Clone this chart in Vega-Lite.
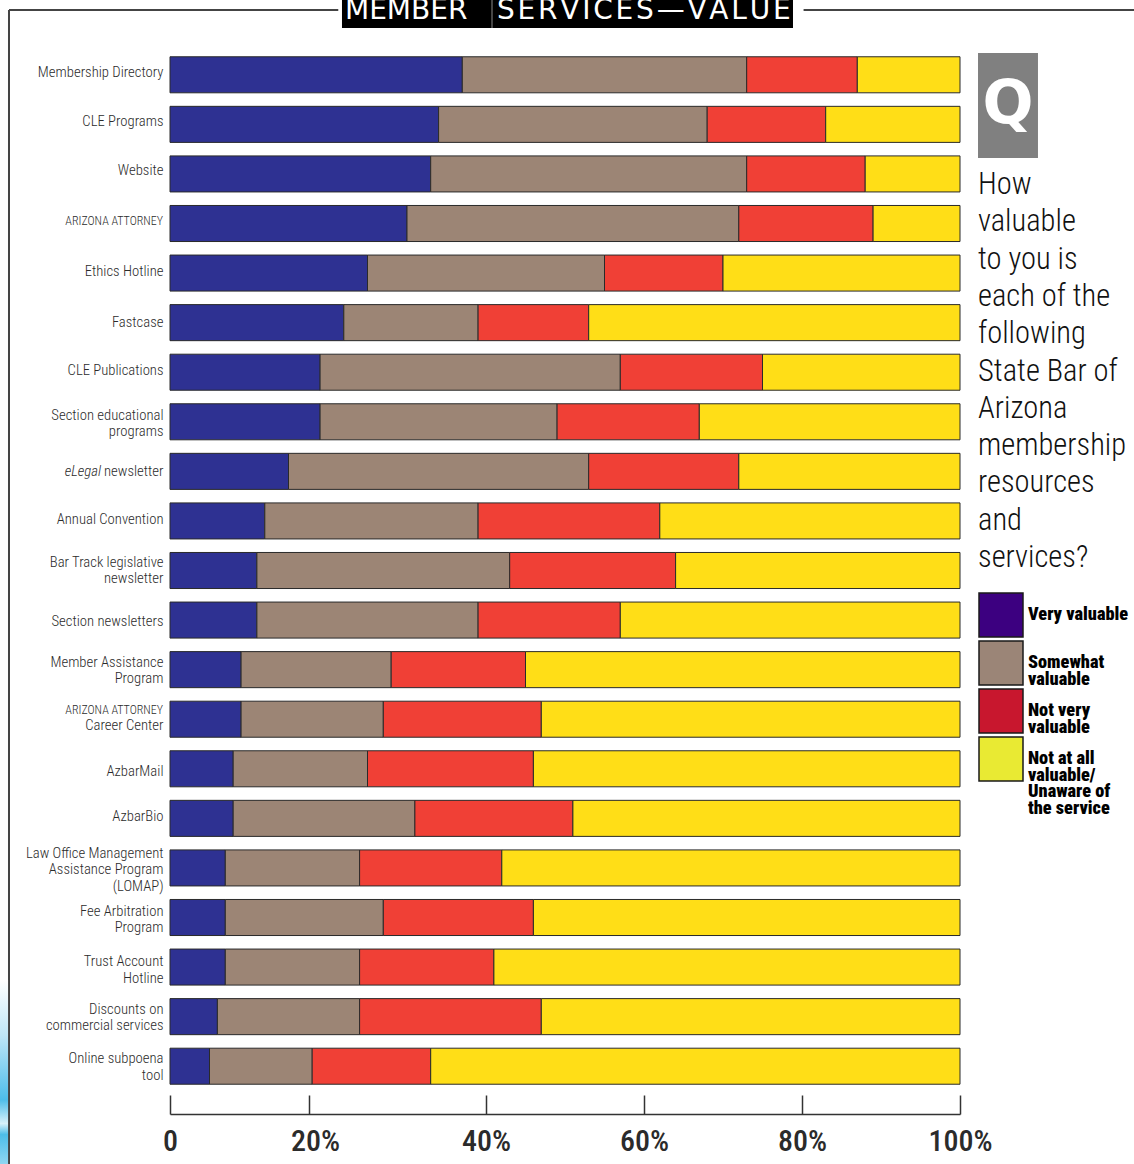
{
  "$schema": "https://vega.github.io/schema/vega-lite/v6.json",
  "width": 790,
  "height": 1041,
  "autosize": "none",
  "padding": {"left": 170, "top": 50, "right": 174, "bottom": 73},
  "background": "white",
  "view": {"stroke": null},
  "config": {"font": "Roboto Condensed, Roboto"},
  "resolve": {"scale": {"color": "independent"}, "legend": {"color": "independent"}},
  "datasets": {
    "responses": [
      {"service":"Membership Directory","rating":"Very valuable","rank":1,"share":37},{"service":"Membership Directory","rating":"Somewhat valuable","rank":2,"share":36},{"service":"Membership Directory","rating":"Not very valuable","rank":3,"share":14},{"service":"Membership Directory","rating":"Not at all valuable/ Unaware of the service","rank":4,"share":13},
      {"service":"CLE Programs","rating":"Very valuable","rank":1,"share":34},{"service":"CLE Programs","rating":"Somewhat valuable","rank":2,"share":34},{"service":"CLE Programs","rating":"Not very valuable","rank":3,"share":15},{"service":"CLE Programs","rating":"Not at all valuable/ Unaware of the service","rank":4,"share":17},
      {"service":"Website","rating":"Very valuable","rank":1,"share":33},{"service":"Website","rating":"Somewhat valuable","rank":2,"share":40},{"service":"Website","rating":"Not very valuable","rank":3,"share":15},{"service":"Website","rating":"Not at all valuable/ Unaware of the service","rank":4,"share":12},
      {"service":"Arizona Attorney","rating":"Very valuable","rank":1,"share":30},{"service":"Arizona Attorney","rating":"Somewhat valuable","rank":2,"share":42},{"service":"Arizona Attorney","rating":"Not very valuable","rank":3,"share":17},{"service":"Arizona Attorney","rating":"Not at all valuable/ Unaware of the service","rank":4,"share":11},
      {"service":"Ethics Hotline","rating":"Very valuable","rank":1,"share":25},{"service":"Ethics Hotline","rating":"Somewhat valuable","rank":2,"share":30},{"service":"Ethics Hotline","rating":"Not very valuable","rank":3,"share":15},{"service":"Ethics Hotline","rating":"Not at all valuable/ Unaware of the service","rank":4,"share":30},
      {"service":"Fastcase","rating":"Very valuable","rank":1,"share":22},{"service":"Fastcase","rating":"Somewhat valuable","rank":2,"share":17},{"service":"Fastcase","rating":"Not very valuable","rank":3,"share":14},{"service":"Fastcase","rating":"Not at all valuable/ Unaware of the service","rank":4,"share":47},
      {"service":"CLE Publications","rating":"Very valuable","rank":1,"share":19},{"service":"CLE Publications","rating":"Somewhat valuable","rank":2,"share":38},{"service":"CLE Publications","rating":"Not very valuable","rank":3,"share":18},{"service":"CLE Publications","rating":"Not at all valuable/ Unaware of the service","rank":4,"share":25},
      {"service":"Section educational programs","rating":"Very valuable","rank":1,"share":19},{"service":"Section educational programs","rating":"Somewhat valuable","rank":2,"share":30},{"service":"Section educational programs","rating":"Not very valuable","rank":3,"share":18},{"service":"Section educational programs","rating":"Not at all valuable/ Unaware of the service","rank":4,"share":33},
      {"service":"eLegal newsletter","rating":"Very valuable","rank":1,"share":15},{"service":"eLegal newsletter","rating":"Somewhat valuable","rank":2,"share":38},{"service":"eLegal newsletter","rating":"Not very valuable","rank":3,"share":19},{"service":"eLegal newsletter","rating":"Not at all valuable/ Unaware of the service","rank":4,"share":28},
      {"service":"Annual Convention","rating":"Very valuable","rank":1,"share":12},{"service":"Annual Convention","rating":"Somewhat valuable","rank":2,"share":27},{"service":"Annual Convention","rating":"Not very valuable","rank":3,"share":23},{"service":"Annual Convention","rating":"Not at all valuable/ Unaware of the service","rank":4,"share":38},
      {"service":"Bar Track legislative newsletter","rating":"Very valuable","rank":1,"share":11},{"service":"Bar Track legislative newsletter","rating":"Somewhat valuable","rank":2,"share":32},{"service":"Bar Track legislative newsletter","rating":"Not very valuable","rank":3,"share":21},{"service":"Bar Track legislative newsletter","rating":"Not at all valuable/ Unaware of the service","rank":4,"share":36},
      {"service":"Section newsletters","rating":"Very valuable","rank":1,"share":11},{"service":"Section newsletters","rating":"Somewhat valuable","rank":2,"share":28},{"service":"Section newsletters","rating":"Not very valuable","rank":3,"share":18},{"service":"Section newsletters","rating":"Not at all valuable/ Unaware of the service","rank":4,"share":43},
      {"service":"Member Assistance Program","rating":"Very valuable","rank":1,"share":9},{"service":"Member Assistance Program","rating":"Somewhat valuable","rank":2,"share":19},{"service":"Member Assistance Program","rating":"Not very valuable","rank":3,"share":17},{"service":"Member Assistance Program","rating":"Not at all valuable/ Unaware of the service","rank":4,"share":55},
      {"service":"Arizona Attorney Career Center","rating":"Very valuable","rank":1,"share":9},{"service":"Arizona Attorney Career Center","rating":"Somewhat valuable","rank":2,"share":18},{"service":"Arizona Attorney Career Center","rating":"Not very valuable","rank":3,"share":20},{"service":"Arizona Attorney Career Center","rating":"Not at all valuable/ Unaware of the service","rank":4,"share":53},
      {"service":"AzbarMail","rating":"Very valuable","rank":1,"share":8},{"service":"AzbarMail","rating":"Somewhat valuable","rank":2,"share":17},{"service":"AzbarMail","rating":"Not very valuable","rank":3,"share":21},{"service":"AzbarMail","rating":"Not at all valuable/ Unaware of the service","rank":4,"share":54},
      {"service":"AzbarBio","rating":"Very valuable","rank":1,"share":8},{"service":"AzbarBio","rating":"Somewhat valuable","rank":2,"share":23},{"service":"AzbarBio","rating":"Not very valuable","rank":3,"share":20},{"service":"AzbarBio","rating":"Not at all valuable/ Unaware of the service","rank":4,"share":49},
      {"service":"Law Office Management Assistance Program (LOMAP)","rating":"Very valuable","rank":1,"share":7},{"service":"Law Office Management Assistance Program (LOMAP)","rating":"Somewhat valuable","rank":2,"share":17},{"service":"Law Office Management Assistance Program (LOMAP)","rating":"Not very valuable","rank":3,"share":18},{"service":"Law Office Management Assistance Program (LOMAP)","rating":"Not at all valuable/ Unaware of the service","rank":4,"share":58},
      {"service":"Fee Arbitration Program","rating":"Very valuable","rank":1,"share":7},{"service":"Fee Arbitration Program","rating":"Somewhat valuable","rank":2,"share":20},{"service":"Fee Arbitration Program","rating":"Not very valuable","rank":3,"share":19},{"service":"Fee Arbitration Program","rating":"Not at all valuable/ Unaware of the service","rank":4,"share":54},
      {"service":"Trust Account Hotline","rating":"Very valuable","rank":1,"share":7},{"service":"Trust Account Hotline","rating":"Somewhat valuable","rank":2,"share":17},{"service":"Trust Account Hotline","rating":"Not very valuable","rank":3,"share":17},{"service":"Trust Account Hotline","rating":"Not at all valuable/ Unaware of the service","rank":4,"share":59},
      {"service":"Discounts on commercial services","rating":"Very valuable","rank":1,"share":6},{"service":"Discounts on commercial services","rating":"Somewhat valuable","rank":2,"share":18},{"service":"Discounts on commercial services","rating":"Not very valuable","rank":3,"share":23},{"service":"Discounts on commercial services","rating":"Not at all valuable/ Unaware of the service","rank":4,"share":53},
      {"service":"Online subpoena tool","rating":"Very valuable","rank":1,"share":5},{"service":"Online subpoena tool","rating":"Somewhat valuable","rank":2,"share":13},{"service":"Online subpoena tool","rating":"Not very valuable","rank":3,"share":15},{"service":"Online subpoena tool","rating":"Not at all valuable/ Unaware of the service","rank":4,"share":67}
    ]
  },
  "layer": [
    {
      "data": {"name": "responses"},
      "mark": {"type": "bar", "stroke": "#2a2a2a", "strokeWidth": 1},
      "encoding": {
        "y": {
          "field": "service",
          "type": "nominal",
          "scale": {
            "domain": ["Membership Directory","CLE Programs","Website","Arizona Attorney","Ethics Hotline","Fastcase","CLE Publications","Section educational programs","eLegal newsletter","Annual Convention","Bar Track legislative newsletter","Section newsletters","Member Assistance Program","Arizona Attorney Career Center","AzbarMail","AzbarBio","Law Office Management Assistance Program (LOMAP)","Fee Arbitration Program","Trust Account Hotline","Discounts on commercial services","Online subpoena tool"],
            "paddingInner": 0.273,
            "paddingOuter": 0.1365
          },
          "axis": {
            "title": null,
            "ticks": false,
            "domain": false,
            "labelFont": "Roboto Condensed, Roboto",
            "labelFontWeight": 300,
            "labelFontSize": 14.7,
            "labelColor": "#2b2b2b",
            "labelPadding": 7,
            "labelLimit": 200,
            "labelLineHeight": 16.5,
            "labelOffset": {"expr": "{'Membership Directory':-2,'CLE Programs':-2,'Website':-3,'Ethics Hotline':-1,'Fastcase':0,'CLE Publications':-1,'Section educational programs':-6,'eLegal newsletter':1,'Annual Convention':-1,'Bar Track legislative newsletter':-8,'Section newsletters':2,'Member Assistance Program':-7,'Arizona Attorney Career Center':-10,'AzbarMail':3,'AzbarBio':-1,'Law Office Management Assistance Program (LOMAP)':-14,'Fee Arbitration Program':-6,'Trust Account Hotline':-5,'Discounts on commercial services':-7,'Online subpoena tool':-7}[datum.value] || 0"},
            "labelExpr": "{'Section educational programs':['Section educational','programs'],'eLegal newsletter':'newsletter','Arizona Attorney':' ','Bar Track legislative newsletter':['Bar Track legislative','newsletter'],'Member Assistance Program':['Member Assistance','Program'],'Arizona Attorney Career Center':[' ','Career Center'],'Law Office Management Assistance Program (LOMAP)':['Law Office Management','Assistance Program','(LOMAP)'],'Fee Arbitration Program':['Fee Arbitration','Program'],'Trust Account Hotline':['Trust Account','Hotline'],'Discounts on commercial services':['Discounts on','commercial services'],'Online subpoena tool':['Online subpoena','tool']}[datum.value] || datum.value"
          }
        },
        "x": {
          "field": "share",
          "type": "quantitative",
          "stack": "zero",
          "scale": {"domain": [0, 100], "nice": false},
          "axis": {
            "title": null,
            "grid": false,
            "offset": 23,
            "orient": "bottom",
            "values": [0, 17.6, 40, 60, 80, 100],
            "labelExpr": "datum.value == 0 ? '0' : datum.value == 17.6 ? '20%' : datum.value + '%'",
            "labelOffset": {"expr": "datum.value == 17.6 ? 6 : 0"},
            "labelFlush": false,
            "labelBound": false,
            "labelOverlap": false,
            "tickSize": -19,
            "tickWidth": 1.5,
            "tickColor": "#333333",
            "domainColor": "#333333",
            "domainWidth": 1.5,
            "labelFont": "Roboto Condensed, Roboto",
            "labelFontWeight": 500,
            "labelFontSize": 30,
            "labelColor": "#2b2b2b",
            "labelPadding": 31
          }
        },
        "color": {
          "field": "rating",
          "type": "nominal",
          "legend": null,
          "scale": {
            "domain": ["Very valuable","Somewhat valuable","Not very valuable","Not at all valuable/ Unaware of the service"],
            "range": ["#2e3192","#9c8575","#f04036","#ffde17"]
          }
        },
        "order": {"field": "rank", "type": "quantitative"}
      }
    },
    {
      "data": {"values": [
        {"rating":"Very valuable"},{"rating":"Somewhat valuable"},{"rating":"Not very valuable"},{"rating":"Not at all valuable/ Unaware of the service"}
      ]},
      "mark": {"type": "square", "opacity": 0},
      "encoding": {
        "color": {
          "field": "rating",
          "type": "nominal",
          "scale": {
            "domain": ["Very valuable","Somewhat valuable","Not very valuable","Not at all valuable/ Unaware of the service"],
            "range": ["#3c0080","#9b8577","#c8172e","#e9ea33"]
          },
          "legend": {
            "title": null,
            "orient": "none",
            "legendX": 808,
            "legendY": 542,
            "symbolType": "square",
            "symbolSize": 1936,
            "symbolStrokeColor": "#1a1a1a",
            "symbolStrokeWidth": 1.5,
            "symbolOpacity": 1,
            "rowPadding": -2,
            "labelFont": "Roboto Condensed, Roboto",
            "labelFontWeight": 900,
            "labelFontSize": 18.3,
            "labelColor": "#000000",
            "labelOffset": 4,
            "labelLimit": 200,
            "labelExpr": "{'Somewhat valuable':['Somewhat','valuable'],'Not very valuable':['Not very','valuable'],'Not at all valuable/ Unaware of the service':['Not at all','valuable/','Unaware of','the service']}[datum.label] || datum.label",
            "encoding": {
              "labels": {
                "lineHeight": {"value": 16.7},
                "y": {"signal": "datum.value == 'Very valuable' ? 21 : datum.value == 'Not at all valuable/ Unaware of the service' ? 0 : 2.5"}
              }
            }
          }
        }
      }
    },
    {
      "data": {"values": [{"service": "Arizona Attorney", "caption": "ARIZONA ATTORNEY"}]},
      "mark": {"type": "text", "align": "right", "baseline": "middle", "font": "Roboto Condensed, Roboto", "fontWeight": 300, "fontSize": 12, "color": "#2b2b2b", "dx": -7, "dy": -3},
      "encoding": {
        "y": {"field": "service", "type": "nominal"},
        "x": {"datum": 0, "type": "quantitative"},
        "text": {"field": "caption"}
      }
    },
    {
      "data": {"values": [{"service": "Arizona Attorney Career Center", "caption": "ARIZONA ATTORNEY"}]},
      "mark": {"type": "text", "align": "right", "baseline": "middle", "font": "Roboto Condensed, Roboto", "fontWeight": 300, "fontSize": 12, "color": "#2b2b2b", "dx": -7, "dy": -9},
      "encoding": {
        "y": {"field": "service", "type": "nominal"},
        "x": {"datum": 0, "type": "quantitative"},
        "text": {"field": "caption"}
      }
    },
    {
      "data": {"values": [{"service": "eLegal newsletter", "caption": "eLegal"}]},
      "mark": {"type": "text", "align": "right", "baseline": "middle", "font": "Roboto Condensed, Roboto", "fontWeight": 300, "fontStyle": "italic", "fontSize": 14.7, "color": "#2b2b2b", "dx": -69, "dy": 1},
      "encoding": {
        "y": {"field": "service", "type": "nominal"},
        "x": {"datum": 0, "type": "quantitative"},
        "text": {"field": "caption"}
      }
    },
    {
      "data": {"values": [{}]},
      "mark": {"type": "rule", "color": "#444444", "strokeWidth": 2},
      "encoding": {
        "x": {"datum": -20.38, "type": "quantitative"},
        "y": {"value": -40},
        "y2": {"value": 1114}
      }
    },
    {
      "data": {"values": [{}]},
      "mark": {"type": "rule", "color": "#444444", "strokeWidth": 2},
      "encoding": {
        "x": {"datum": -20.38, "type": "quantitative"},
        "x2": {"datum": 21.3},
        "y": {"value": -40}
      }
    },
    {
      "data": {"values": [{}]},
      "mark": {"type": "rule", "color": "#444444", "strokeWidth": 2},
      "encoding": {
        "x": {"datum": 80.2, "type": "quantitative"},
        "x2": {"datum": 122.1},
        "y": {"value": -40}
      }
    },
    {
      "data": {"values": [{}]},
      "mark": {
        "type": "rect",
        "color": {
          "gradient": "linear", "x1": 0, "y1": 0, "x2": 0, "y2": 1,
          "stops": [
            {"offset": 0, "color": "#ffffff"},
            {"offset": 0.3, "color": "#bfe6f6"},
            {"offset": 0.65, "color": "#4dbde9"},
            {"offset": 0.78, "color": "#d8f1fa"},
            {"offset": 0.84, "color": "#4dbde9"},
            {"offset": 1, "color": "#8fd6f1"}
          ]
        }
      },
      "encoding": {
        "x": {"datum": -21.52, "type": "quantitative"},
        "x2": {"datum": -20.5},
        "y": {"value": 930},
        "y2": {"value": 1114}
      }
    },
    {
      "data": {"values": [{}]},
      "mark": {"type": "rect", "color": "#000000"},
      "encoding": {
        "x": {"datum": 21.77, "type": "quantitative"},
        "x2": {"datum": 78.86},
        "y": {"value": -50},
        "y2": {"value": -22}
      }
    },
    {
      "data": {"values": [{}]},
      "mark": {"type": "rule", "color": "#8a8a8a", "strokeWidth": 1},
      "encoding": {
        "x": {"datum": 40.76, "type": "quantitative"},
        "y": {"value": -50},
        "y2": {"value": -22}
      }
    },
    {
      "data": {"values": [{"heading": "MEMBER"}]},
      "mark": {"type": "text", "align": "left", "baseline": "alphabetic", "font": "DejaVu Sans", "fontSize": 28, "color": "#ffffff"},
      "encoding": {
        "x": {"datum": 22.15, "type": "quantitative"},
        "y": {"value": -31},
        "text": {"field": "heading"}
      }
    },
    {
      "data": {"values": [{"heading": "S\u200aE\u200aR\u200aV\u200aI\u200aC\u200aE\u200aS\u200a—\u200aV\u200aA\u200aL\u200aU\u200aE"}]},
      "mark": {"type": "text", "align": "left", "baseline": "alphabetic", "font": "DejaVu Sans", "fontSize": 28, "color": "#ffffff"},
      "encoding": {
        "x": {"datum": 41.39, "type": "quantitative"},
        "y": {"value": -31},
        "text": {"field": "heading"}
      }
    },
    {
      "data": {"values": [{}]},
      "mark": {"type": "rect", "color": "#808080"},
      "encoding": {
        "x": {"datum": 102.28, "type": "quantitative"},
        "x2": {"datum": 109.87},
        "y": {"value": 3},
        "y2": {"value": 108}
      }
    },
    {
      "data": {"values": [{"badge": "Q"}]},
      "mark": {"type": "text", "align": "center", "baseline": "alphabetic", "font": "DejaVu Sans", "fontWeight": "bold", "fontSize": 60, "color": "#ffffff"},
      "encoding": {
        "x": {"datum": 106.08, "type": "quantitative"},
        "y": {"value": 73},
        "text": {"field": "badge"}
      }
    },
    {
      "data": {"values": [{"prompt": "How\nvaluable\nto you is\neach of the\nfollowing\nState Bar of\nArizona\nmembership\nresources\nand\nservices?"}]},
      "mark": {"type": "text", "align": "left", "baseline": "alphabetic", "font": "Roboto Condensed, Roboto", "fontWeight": 300, "fontSize": 30.5, "lineHeight": 37.3, "lineBreak": "\n", "color": "#111111"},
      "encoding": {
        "x": {"datum": 102.28, "type": "quantitative"},
        "y": {"value": 144},
        "text": {"field": "prompt"}
      }
    }
  ]
}
